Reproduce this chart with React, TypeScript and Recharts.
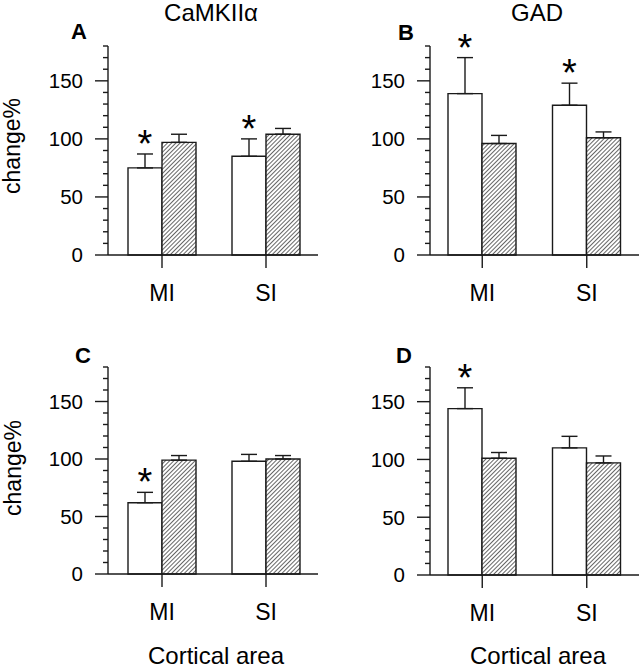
import React from 'react';
import { BarChart, Bar, XAxis, YAxis, ErrorBar, LabelList } from 'recharts';

// categories
const areas = ['MI', 'SI'];
const yTicks = [0, 10, 20, 30, 40, 50, 60, 70, 80, 90, 100, 110, 120, 130, 140, 150, 160, 170, 180];

// A - CaMKIIa
const aWhite = [75, 85];
const aWhiteErr = [12, 15];
const aHatch = [97, 104];
const aHatchErr = [7, 5];
const aStar = [true, true];

// B - GAD
const bWhite = [139, 129];
const bWhiteErr = [31, 19];
const bHatch = [96, 101];
const bHatchErr = [7, 5];
const bStar = [true, true];

// C - CaMKIIa
const cWhite = [62, 98];
const cWhiteErr = [9, 6];
const cHatch = [99, 100];
const cHatchErr = [4, 3];
const cStar = [true, false];

// D - GAD
const dWhite = [144, 110];
const dWhiteErr = [18, 10];
const dHatch = [101, 97];
const dHatchErr = [5, 6];
const dStar = [true, false];

const ink = '#1a1a1a';
const font = '"Liberation Sans", Arial, sans-serif';
const lw = 1.4;

type Row = { area: string; white: number; whiteErr: number[]; hatch: number; hatchErr: number[]; star: boolean };

function buildRows(white: number[], whiteErr: number[], hatch: number[], hatchErr: number[], star: boolean[]): Row[] {
  return areas.map((area, i) => ({
    area,
    white: white[i],
    whiteErr: [0, whiteErr[i]],
    hatch: hatch[i],
    hatchErr: [0, hatchErr[i]],
    star: star[i],
  }));
}

function YTick(props: any) {
  const { x, y, payload } = props;
  const major = payload.value % 50 === 0;
  return (
    <g>
      <line x1={x - (major ? 13 : 5)} x2={x} y1={y} y2={y} stroke={ink} strokeWidth={lw} />
      {major && (
        <text x={x - 25} y={y} dy="0.36em" textAnchor="end" fontSize={20.5} fontFamily={font} fill="#000">
          {payload.value}
        </text>
      )}
    </g>
  );
}

function renderStar(p: any, rows: Row[]) {
  const row = rows[p.index];
  if (!row || !row.star) return null;
  const x = p.x ?? p.viewBox?.x;
  const y = p.y ?? p.viewBox?.y;
  const w = p.width ?? p.viewBox?.width;
  const h = p.height ?? p.viewBox?.height;
  const ratio = h / row.white;
  const errTop = y - row.whiteErr[1] * ratio;
  return (
    <text x={x + w / 2} y={errTop + 3} textAnchor="middle" fontSize={38} fontFamily={font} fill="#000">
      *
    </text>
  );
}

function Panel({ id, rows, left, top, height, marginTop, marginRight, padLeft }: {
  id: string; rows: Row[]; left: number; top: number; height: number; marginTop: number; marginRight: number; padLeft: number;
}) {
  return (
    <div style={{ position: 'absolute', left, top }}>
      <BarChart
        width={322}
        height={height}
        data={rows}
        margin={{ top: marginTop, right: marginRight, left: 0, bottom: 0 }}
        barGap={0}
        barSize={34}
      >
        <defs>
          <pattern id={`hatch-${id}`} patternUnits="userSpaceOnUse" width={3} height={3} patternTransform="rotate(45)">
            <rect width={3} height={3} fill="#fff" />
            <line x1={0} y1={0} x2={0} y2={3} stroke="#333" strokeWidth={1.5} />
          </pattern>
        </defs>
        <XAxis
          dataKey="area"
          height={55}
          padding={{ left: padLeft, right: 0 }}
          tickSize={13}
          tickMargin={17}
          axisLine={{ stroke: ink, strokeWidth: lw }}
          tickLine={{ stroke: ink, strokeWidth: lw }}
          tick={{ fontSize: 23, fill: '#000', fontFamily: font }}
        />
        <YAxis
          width={108}
          domain={[0, 180]}
          ticks={yTicks}
          interval={0}
          tickSize={0}
          tickMargin={0}
          tickLine={false}
          axisLine={{ stroke: ink, strokeWidth: lw }}
          tick={<YTick />}
        />
        <Bar dataKey="white" fill="#fff" stroke={ink} strokeWidth={lw} isAnimationActive={false}>
          <ErrorBar dataKey="whiteErr" width={8} stroke={ink} strokeWidth={lw} direction="y" />
          <LabelList dataKey="white" content={(p: any) => renderStar(p, rows)} />
        </Bar>
        <Bar dataKey="hatch" fill={`url(#hatch-${id})`} stroke={ink} strokeWidth={lw} isAnimationActive={false}>
          <ErrorBar dataKey="hatchErr" width={8} stroke={ink} strokeWidth={lw} direction="y" />
        </Bar>
      </BarChart>
    </div>
  );
}

function Overlay() {
  const t = { fontFamily: font, fill: '#000' };
  return (
    <svg width={644} height={669} style={{ position: 'absolute', left: 0, top: 0, pointerEvents: 'none' }}>
      <text x={211} y={21} textAnchor="middle" fontSize={24} {...t}>CaMKIIα</text>
      <text x={537} y={21} textAnchor="middle" fontSize={24} {...t}>GAD</text>
      <text x={71} y={39} fontSize={22} fontWeight="bold" {...t}>A</text>
      <text x={398} y={40} fontSize={22} fontWeight="bold" {...t}>B</text>
      <text x={75} y={363} fontSize={22} fontWeight="bold" {...t}>C</text>
      <text x={396} y={363} fontSize={22} fontWeight="bold" {...t}>D</text>
      <text transform="translate(20,146) rotate(-90)" textAnchor="middle" fontSize={23} {...t}>change%</text>
      <text transform="translate(21,468) rotate(-90)" textAnchor="middle" fontSize={23} {...t}>change%</text>
      <text x={216} y={664} textAnchor="middle" fontSize={24} {...t}>Cortical area</text>
      <text x={538} y={664} textAnchor="middle" fontSize={24} {...t}>Cortical area</text>
    </svg>
  );
}

export default function App() {
  const rowsA = buildRows(aWhite, aWhiteErr, aHatch, aHatchErr, aStar);
  const rowsB = buildRows(bWhite, bWhiteErr, bHatch, bHatchErr, bStar);
  const rowsC = buildRows(cWhite, cWhiteErr, cHatch, cHatchErr, cStar);
  const rowsD = buildRows(dWhite, dWhiteErr, dHatch, dHatchErr, dStar);
  return (
    <div style={{ position: 'absolute', left: 0, top: 0, width: 644, height: 669, background: '#fff', overflow: 'hidden' }}>
      <Panel id="a" rows={rowsA} left={0} top={0} height={310} marginTop={46} marginRight={4} padLeft={2} />
      <Panel id="b" rows={rowsB} left={322} top={0} height={310} marginTop={46} marginRight={5} padLeft={0} />
      <Panel id="c" rows={rowsC} left={0} top={320} height={309} marginTop={47} marginRight={4} padLeft={2} />
      <Panel id="d" rows={rowsD} left={322} top={321} height={309} marginTop={46} marginRight={5} padLeft={0} />
      <Overlay />
    </div>
  );
}
